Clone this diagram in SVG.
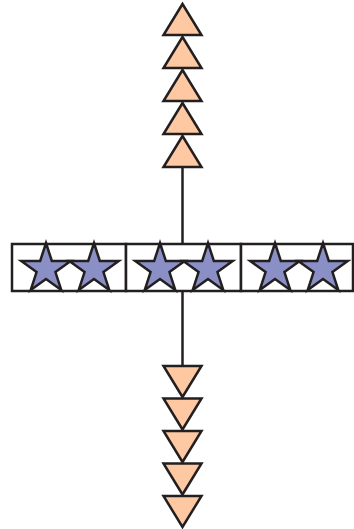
<svg xmlns="http://www.w3.org/2000/svg" width="354" height="529" viewBox="0 0 354 529">
<style>
.ln{stroke:#231F20;stroke-width:2.5;fill:none}
.tri{fill:#FDC8A2;stroke:#231F20;stroke-width:2.5;stroke-linejoin:miter}
.star{fill:#8A8FC6;stroke:#231F20;stroke-width:2.5;stroke-linejoin:miter}
.box{fill:#FFFFFF;stroke:#231F20;stroke-width:2.5}
</style>
<defs>
<path id="up" class="tri" d="M0,0 L19,31 L-19,31 Z"/>
<path id="down" class="tri" d="M-19,0 L19,0 L0,31 Z"/>
<path id="st" class="star" d="M0,-26 L5.84,-8.03 L24.73,-8.03 L9.44,3.07 L15.28,21.03 L0,9.93 L-15.28,21.03 L-9.44,3.07 L-24.73,-8.03 L-5.84,-8.03 Z"/>
</defs>
<g id="connectors">
<line class="ln" x1="182.5" y1="166" x2="182.5" y2="244"/>
<line class="ln" x1="182.5" y1="291" x2="182.5" y2="367"/>
</g>
<g id="top-triangles">
<use href="#up" x="182.5" y="136"/>
<use href="#up" x="182.5" y="103"/>
<use href="#up" x="182.5" y="70"/>
<use href="#up" x="182.5" y="37"/>
<use href="#up" x="182.5" y="4"/>
</g>
<g id="box">
<rect class="box" x="12" y="244" width="114" height="47"/>
<rect class="box" x="126" y="244" width="115" height="47"/>
<rect class="box" x="241" y="244" width="112" height="47"/>
</g>
<g id="stars">
<use href="#st" x="46" y="269"/>
<use href="#st" x="94" y="269"/>
<use href="#st" x="160" y="269"/>
<use href="#st" x="208" y="269"/>
<use href="#st" x="275" y="269"/>
<use href="#st" x="323" y="269"/>
</g>
<g id="bottom-triangles">
<use href="#down" x="182.5" y="496"/>
<use href="#down" x="182.5" y="463.5"/>
<use href="#down" x="182.5" y="431"/>
<use href="#down" x="182.5" y="398.5"/>
<use href="#down" x="182.5" y="366"/>
</g>
</svg>
